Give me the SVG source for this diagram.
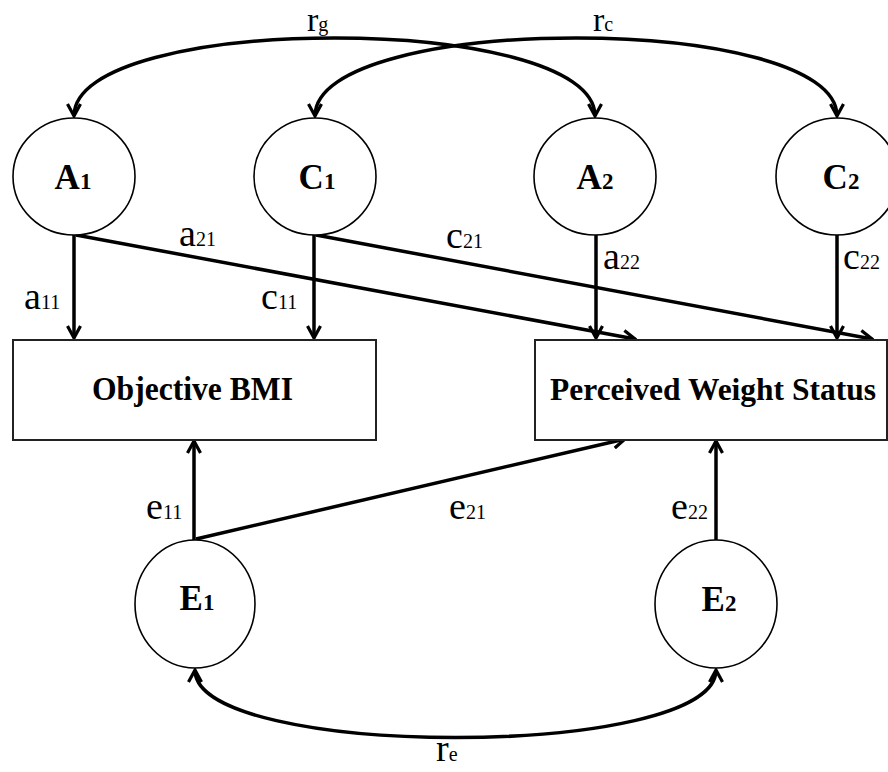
<svg xmlns="http://www.w3.org/2000/svg" width="888" height="772" viewBox="0 0 888 772">
<style>
.node{fill:#fff;stroke:#000;stroke-width:1.6}
.box{fill:#fff;stroke:#222;stroke-width:2}
.nl{font-family:"Liberation Serif","Times New Roman",serif;font-weight:bold;font-size:35px;fill:#000}
.sub{font-size:23px}
.conn{fill:none;stroke:#000;stroke-width:3.5}
.arr{marker-end:url(#ah)}
.bi{marker-start:url(#ahs);marker-end:url(#ah)}
.lbl{font-family:"Liberation Serif","Times New Roman",serif;font-size:38px;fill:#000}
.ls{font-size:20px}
.top{font-size:34px}
.bt{font-family:"Liberation Serif","Times New Roman",serif;font-weight:bold;font-size:33px;fill:#000}
.bt2{font-size:31px}
</style>
<defs>
<marker id="ah" viewBox="0 0 16 16" markerWidth="16" markerHeight="16" markerUnits="userSpaceOnUse" refX="14" refY="8" orient="auto">
<path d="M2,1.5 L14,8 L2,14.5" fill="none" stroke="#000" stroke-width="3.2"/>
</marker>
<marker id="ahs" viewBox="0 0 16 16" markerWidth="16" markerHeight="16" markerUnits="userSpaceOnUse" refX="14" refY="8" orient="auto-start-reverse">
<path d="M2,1.5 L14,8 L2,14.5" fill="none" stroke="#000" stroke-width="3.2"/>
</marker>
</defs>

<g id="connectors">
<path class="conn bi" d="M74,116 C74,12 595,12 595,116"/>
<path class="conn bi" d="M315,116 C315,12 837,12 837,116"/>
<path class="conn bi" d="M195,670 C195,760 716,760 716,670"/>
<line class="conn arr" x1="74" y1="235" x2="74" y2="338"/>
<line class="conn arr" x1="314" y1="235" x2="314" y2="338"/>
<line class="conn arr" x1="596" y1="235" x2="596" y2="338"/>
<line class="conn arr" x1="837" y1="235" x2="837" y2="338"/>
<line class="conn arr" x1="76" y1="235" x2="635" y2="339"/>
<line class="conn arr" x1="316" y1="235" x2="872" y2="339"/>
<line class="conn arr" x1="194" y1="540" x2="194" y2="441"/>
<line class="conn arr" x1="196" y1="539" x2="625" y2="439"/>
<line class="conn arr" x1="716" y1="540" x2="716" y2="441"/>
</g>

<g id="labels">
<text class="lbl top" x="307" y="31">r<tspan class="ls">g</tspan></text>
<text class="lbl top" x="593" y="31">r<tspan class="ls">c</tspan></text>
<text class="lbl" x="179" y="246">a<tspan class="ls">21</tspan></text>
<text class="lbl" x="446" y="248">c<tspan class="ls">21</tspan></text>
<text class="lbl" x="24" y="309">a<tspan class="ls">11</tspan></text>
<text class="lbl" x="261" y="309">c<tspan class="ls">11</tspan></text>
<text class="lbl" x="603" y="269">a<tspan class="ls">22</tspan></text>
<text class="lbl" x="843" y="269">c<tspan class="ls">22</tspan></text>
<text class="lbl" x="146" y="519">e<tspan class="ls">11</tspan></text>
<text class="lbl" x="449" y="519">e<tspan class="ls">21</tspan></text>
<text class="lbl" x="671" y="519">e<tspan class="ls">22</tspan></text>
<text class="lbl" x="436" y="761">r<tspan class="ls">e</tspan></text>
</g>

<g id="A1">
<ellipse class="node" cx="74" cy="176.5" rx="61" ry="58.5"/>
<text class="nl" x="73" y="189" text-anchor="middle">A<tspan class="sub">1</tspan></text>
</g>
<g id="C1">
<ellipse class="node" cx="315" cy="176.5" rx="61" ry="58.5"/>
<text class="nl" x="317" y="189" text-anchor="middle">C<tspan class="sub">1</tspan></text>
</g>
<g id="A2">
<ellipse class="node" cx="595" cy="176.5" rx="61" ry="58.5"/>
<text class="nl" x="595" y="189" text-anchor="middle">A<tspan class="sub">2</tspan></text>
</g>
<g id="C2">
<ellipse class="node" cx="837" cy="176.5" rx="61" ry="58.5"/>
<text class="nl" x="841" y="189" text-anchor="middle">C<tspan class="sub">2</tspan></text>
</g>
<g id="ObjectiveBMI">
<rect class="box" x="13" y="340" width="363" height="100"/>
<text class="bt" x="92" y="400" textLength="201" lengthAdjust="spacingAndGlyphs">Objective BMI</text>
</g>
<g id="PerceivedWeightStatus">
<rect class="box" x="535" y="340" width="352" height="100"/>
<text class="bt bt2" x="550" y="400" textLength="326" lengthAdjust="spacingAndGlyphs">Perceived Weight Status</text>
</g>
<g id="E1">
<ellipse class="node" cx="195" cy="604" rx="60" ry="64"/>
<text class="nl" x="197" y="610" text-anchor="middle">E<tspan class="sub">1</tspan></text>
</g>
<g id="E2">
<ellipse class="node" cx="716" cy="604" rx="61" ry="64"/>
<text class="nl" x="719" y="611" text-anchor="middle">E<tspan class="sub">2</tspan></text>
</g>
</svg>
